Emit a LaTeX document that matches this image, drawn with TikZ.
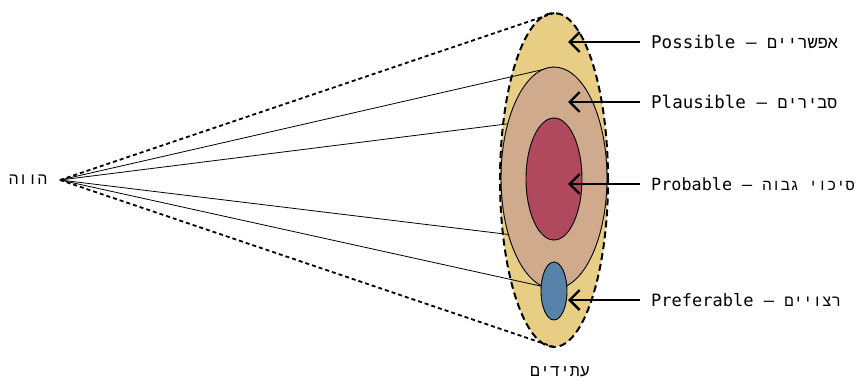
\documentclass[tikz,border=0pt]{standalone}
\usepackage{fontspec}
\setmainfont{DejaVu Sans Mono}
\newfontfamily\hebfont[Script=Hebrew]{Liberation Mono}
\usetikzlibrary{shapes.geometric,arrows.meta}
\TeXXeTstate=1
\definecolor{cyellow}{HTML}{E8CD84}
\definecolor{ctan}{HTML}{CFAA8C}
\definecolor{cred}{HTML}{B0495E}
\definecolor{cblue}{HTML}{5783AB}
\newcommand{\heb}[2][16.4]{{\hebfont\fontsize{#1}{19}\selectfont\beginR #2\endR}}
\begin{document}
\begin{tikzpicture}[x=1pt,y=-1pt,
  blob/.style={ellipse,inner sep=0pt,outer sep=0pt,draw=black,line width=0.9pt},
  lbl/.style={inner sep=0pt,anchor=west,font=\fontsize{17.5}{19}\selectfont},
  arr/.style={line width=2.6pt,shorten <=11pt,-{Straight Barb[length=10pt,width=20pt,line width=2.4pt]}},
  tline/.style={line width=0.8pt},
  dline/.style={line width=1.8pt,dash pattern=on 4pt off 3pt}]
\useasboundingbox (0,0) rectangle (857,381);
\coordinate (now) at (60,180);
% outer (yellow) fill
\node[blob,draw=none,fill=cyellow,minimum width=108pt,minimum height=334pt] (outer) at (554,180) {};
% lines tangent to the red ellipse (under tan)
\node[blob,draw=none,minimum width=56pt,minimum height=122pt] (redg) at (554,179) {};
\draw[tline] (now) -- (redg.north);
\draw[tline] (now) -- (redg.south);
% lines tangent to the tan ellipse
\node[blob,draw=none,minimum width=106pt,minimum height=222pt] (tang) at (554,178) {};
\draw[tline] (now) -- (tang.north);
\draw[tline] (now) -- (tang.south);
% tan, red, blue
\node[blob,fill=ctan,minimum width=106pt,minimum height=222pt] (tan) at (554,178) {};
\node[blob,fill=cred,minimum width=56pt,minimum height=122pt] (red) at (554,179) {};
\node[blob,fill=cblue,minimum width=26pt,minimum height=58pt] (blue) at (554,291) {};
% dashed outer outline and tangents
\node[blob,draw=black,line width=2pt,dash pattern=on 7pt off 4pt,minimum width=108pt,minimum height=334pt] (outerline) at (554,180) {};
\draw[dline] (now) -- (outer.north);
\draw[dline] (now) -- (outer.south);
% labels
\node[lbl] (l1) at (651,42) {Possible – \heb[16.9]{אפשריים}};
\node[lbl] (l2) at (651,102) {Plausible – \heb[16.6]{סבירים}};
\node[lbl,font=\fontsize{16.8}{19}\selectfont] (l3) at (651,184) {Probable – \heb[15.4]{סיכוי גבוה}};
\node[lbl,font=\fontsize{17}{19}\selectfont] (l4) at (651,300) {Preferable – \heb[15.8]{רצויים}};
\coordinate (t1) at (568,42);
\coordinate (t2) at (568,102);
\coordinate (t3) at (568,184);
\coordinate (t4) at (568,300);
\draw[arr] (l1.west) -- (t1);
\draw[arr] (l2.west) -- (t2);
\draw[arr] (l3.west) -- (t3);
\draw[arr] (l4.west) -- (t4);
\node[lbl,anchor=center] (present) at (28,180) {\heb[16]{הווה}};
\node[lbl,anchor=center] (futures) at (560,372) {\heb[16.6]{עתידים}};
\end{tikzpicture}
\end{document}
